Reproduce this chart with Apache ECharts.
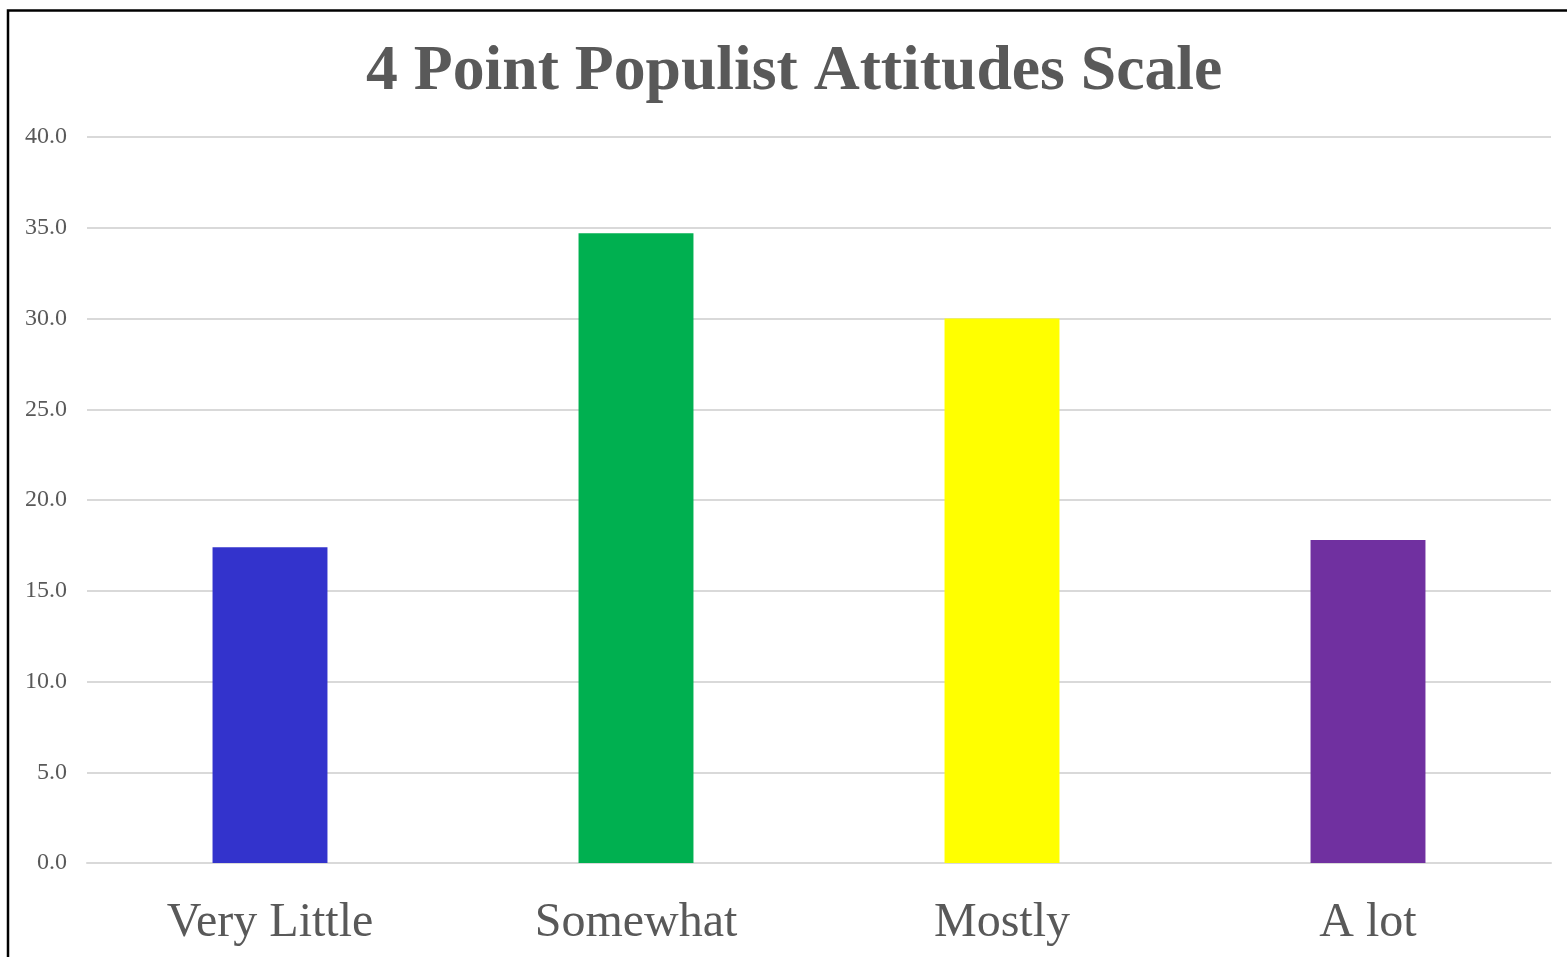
<!DOCTYPE html>
<html>
<head>
<meta charset="utf-8">
<script src="https://cdn.jsdelivr.net/npm/echarts@6/dist/echarts.min.js"></script>
<style>
html,body{margin:0;padding:0;background:#fff;}
#chart{width:1567px;height:957px;}
</style>
</head>
<body>
<div id="chart"></div>
<script>
const categories = ['Very Little', 'Somewhat', 'Mostly', 'A lot'];
const values = [17.4, 34.7, 30.0, 17.8];
const barColors = ['#3333CC', '#00B050', '#FFFF00', '#7030A0'];
const titleText = '4 Point Populist Attitudes Scale';

const chart = echarts.init(document.getElementById('chart'), null, {renderer: 'canvas'});
chart.setOption({
  animation: false,
  backgroundColor: '#ffffff',
  title: {
    text: titleText,
    left: 366,
    top: 41,
    padding: 0,
    textStyle: {
      fontFamily: 'Liberation Serif',
      fontWeight: 'bold',
      fontSize: 63.7,
      color: '#595959'
    }
  },
  graphic: [{
    type: 'rect',
    shape: {x: 8, y: 10.5, width: 1700, height: 1100},
    style: {fill: 'none', stroke: '#000000', lineWidth: 2.5},
    silent: true
  }],
  grid: {left: 87, right: 16, top: 137, bottom: 94},
  xAxis: {
    type: 'category',
    data: categories,
    axisTick: {show: false},
    axisLine: {lineStyle: {color: '#D9D9D9', width: 2}},
    axisLabel: {
      fontFamily: 'Liberation Serif',
      fontSize: 48,
      color: '#595959',
      margin: 36
    }
  },
  yAxis: {
    type: 'value',
    min: 0,
    max: 40,
    interval: 5,
    axisLine: {show: false},
    axisTick: {show: false},
    splitLine: {lineStyle: {color: '#D9D9D9', width: 2}},
    axisLabel: {
      fontFamily: 'Liberation Serif',
      fontSize: 24,
      color: '#595959',
      margin: 20,
      formatter: v => v.toFixed(1)
    }
  },
  series: [{
    type: 'bar',
    data: values.map((v, i) => ({value: v, itemStyle: {color: barColors[i]}})),
    barWidth: '31.4%'
  }]
});
</script>
</body>
</html>
